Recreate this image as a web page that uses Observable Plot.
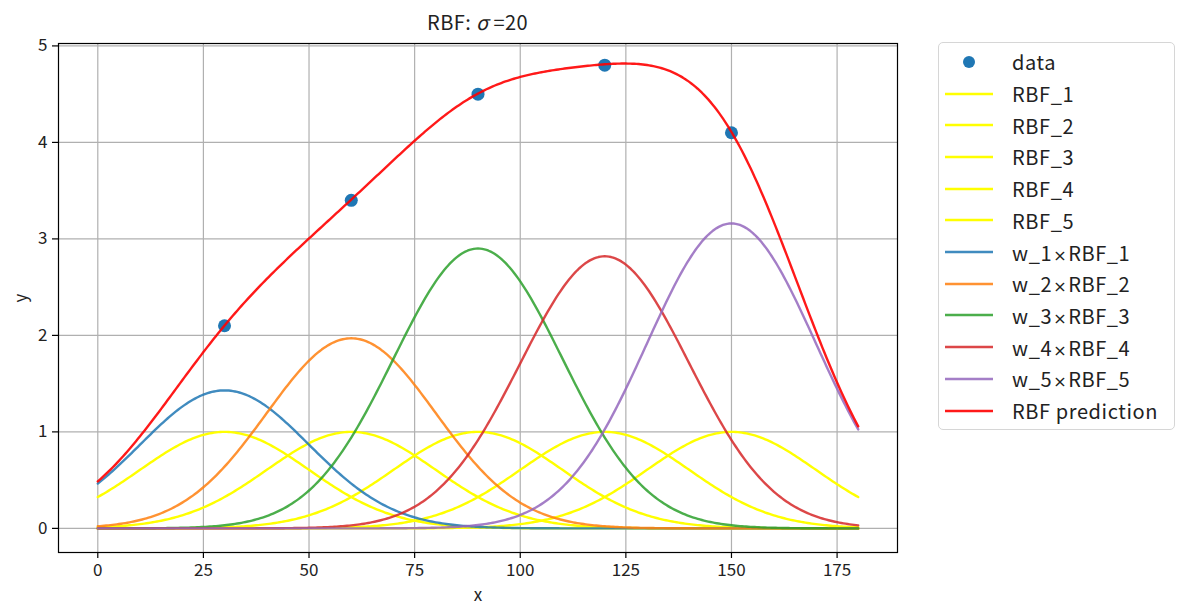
<!DOCTYPE html>
<html>
<head>
<meta charset="utf-8">
<script src="https://cdn.jsdelivr.net/npm/d3@7"></script>
<script src="https://cdn.jsdelivr.net/npm/@observablehq/plot@0.6"></script>
<style>
  html, body { margin: 0; padding: 0; background: #fff; }
  #fig { position: relative; width: 1181px; height: 610px; font-family: "Noto Sans CJK JP", "Noto Sans", sans-serif; color: #222; }
  #title { height: 30px; position: relative; }
  #title span { position: absolute; left: 58px; width: 839px; top: 9px; text-align: center; font-size: 20px; line-height: 26px; letter-spacing: 0.4px; }
  #legend { position: absolute; left: 938px; top: 42px; width: 237px; height: 388px; border: 1px solid #d6d6d6; border-radius: 5px; background: rgba(255,255,255,0.8); box-sizing: border-box; }
  .row { position: absolute; left: 0; height: 31.7px; display: flex; align-items: center; font-size: 20px; letter-spacing: 0.6px; white-space: nowrap; }
  .row svg { margin-left: 6px; margin-right: 19px; }
  .mul { font-family: "DejaVu Sans", sans-serif; font-size: 16px; margin: 0 1px; }
</style>
</head>
<body>
<div id="fig">
  <div id="title"><span>RBF: <i>σ</i>&nbsp;=20</span></div>
  <div id="chart"></div>
  <div id="legend"></div>
</div>
<script>
// ---- values ----
const centers = [30, 60, 90, 120, 150];          // RBF centres
const sigma = 20;                                  // from title
const weights = [1.43, 1.97, 2.90, 2.82, 3.16];    // peak heights of w_i×RBF_i
const dataX = [30, 60, 90, 120, 150];
const dataY = [2.1, 3.4, 4.5, 4.8, 4.1];
const xTicks = [0, 25, 50, 75, 100, 125, 150, 175];
const yTicks = [0, 1, 2, 3, 4, 5];
const rbfNames = ["RBF_1", "RBF_2", "RBF_3", "RBF_4", "RBF_5"];
const wNames = ["w_1×RBF_1", "w_2×RBF_2", "w_3×RBF_3", "w_4×RBF_4", "w_5×RBF_5"];
const wColors = ["#1f77b4", "#ff7f0e", "#2ca02c", "#d62728", "#9467bd"];
const rbfColor = "#ffff00";
const predColor = "#ff0000";
const dataColor = "#1f77b4";
const xRange = [0, 180];

// sample positions for the RBF functions
const xs = d3.range(xRange[0], xRange[1] + 0.0001, 0.5);
const rbf = (x, c) => Math.exp(-((x - c) ** 2) / (2 * sigma ** 2));

const rbfRows = centers.map(c => xs.map(x => ({x, y: rbf(x, c)})));
const wRows = centers.map((c, i) => xs.map(x => ({x, y: weights[i] * rbf(x, c)})));
const predRows = xs.map(x => ({x, y: d3.sum(centers, (c, i) => weights[i] * rbf(x, c))}));
const points = dataX.map((x, i) => ({x, y: dataY[i]}));

const font = '"Noto Sans CJK JP", "Noto Sans", sans-serif';

const marks = [
  Plot.gridX(xTicks, {stroke: "#b0b0b0", strokeOpacity: 1, strokeWidth: 1.2}),
  Plot.gridY(yTicks, {stroke: "#b0b0b0", strokeOpacity: 1, strokeWidth: 1.2}),
  Plot.dot(points, {x: "x", y: "y", r: 6.5, fill: dataColor, stroke: "none"})
];
rbfRows.forEach(rows => marks.push(Plot.line(rows, {x: "x", y: "y", stroke: rbfColor, strokeWidth: 2.4})));
wRows.forEach((rows, i) => marks.push(Plot.line(rows, {x: "x", y: "y", stroke: wColors[i], strokeWidth: 2.4, strokeOpacity: 0.85})));
marks.push(Plot.line(predRows, {x: "x", y: "y", stroke: predColor, strokeWidth: 2.4, strokeOpacity: 0.9}));
marks.push(Plot.frame({stroke: "#000", strokeWidth: 1.2}));
marks.push(Plot.axisX(xTicks, {tickSize: 6, tickPadding: 5, fontSize: 17, stroke: "#000", strokeWidth: 1.2, tickFormat: d => String(d), label: "x", labelAnchor: "center", labelArrow: "none", labelOffset: 48}));
marks.push(Plot.axisY(yTicks, {tickSize: 6, tickPadding: 5, fontSize: 17, stroke: "#000", strokeWidth: 1.2, tickFormat: d => String(d), label: "y", labelAnchor: "center", labelArrow: "none", labelOffset: 44}));

const chart = Plot.plot({
  width: 1181,
  height: 580,
  marginLeft: 58,
  marginRight: 284,
  marginTop: 13,
  marginBottom: 58,
  x: {domain: [-9.3, 189.3]},
  y: {domain: [-0.25, 5.025]},
  style: {fontFamily: font, fontSize: "16px", color: "#222", background: "#fff", overflow: "visible"},
  marks
});
document.getElementById("chart").appendChild(chart);

// ---- legend ----
const legend = document.getElementById("legend");
const entries = [{label: "data", type: "dot", color: dataColor}]
  .concat(rbfNames.map(n => ({label: n, type: "line", color: rbfColor})))
  .concat(wNames.map((n, i) => ({label: n, type: "line", color: wColors[i], opacity: 0.85})))
  .concat([{label: "RBF prediction", type: "line", color: predColor, opacity: 0.9}]);
entries.forEach((e, i) => {
  const row = document.createElement("div");
  row.className = "row";
  row.style.top = (3 + i * 31.7) + "px";
  const ns = "http://www.w3.org/2000/svg";
  const s = document.createElementNS(ns, "svg");
  s.setAttribute("width", 48); s.setAttribute("height", 12);
  if (e.type === "dot") {
    const c = document.createElementNS(ns, "circle");
    c.setAttribute("cx", 24); c.setAttribute("cy", 6); c.setAttribute("r", 6);
    c.setAttribute("fill", e.color);
    s.appendChild(c);
  } else {
    const l = document.createElementNS(ns, "line");
    l.setAttribute("x1", 0); l.setAttribute("x2", 48); l.setAttribute("y1", 6); l.setAttribute("y2", 6);
    l.setAttribute("stroke", e.color); l.setAttribute("stroke-width", 2.6);
    if (e.opacity) l.setAttribute("stroke-opacity", e.opacity);
    s.appendChild(l);
  }
  row.appendChild(s);
  const t = document.createElement("span");
  const parts = e.label.split("×");
  parts.forEach((p, k) => {
    if (k > 0) {
      const m = document.createElement("span");
      m.className = "mul";
      m.textContent = "×";
      t.appendChild(m);
    }
    t.appendChild(document.createTextNode(p));
  });
  row.appendChild(t);
  legend.appendChild(row);
});
</script>
</body>
</html>
